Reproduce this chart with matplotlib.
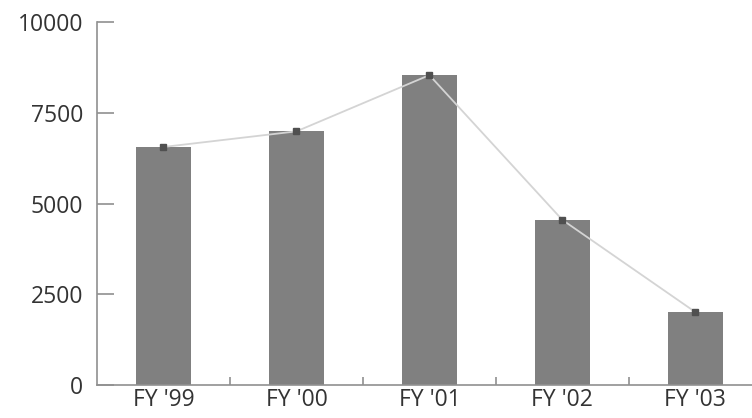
import matplotlib.pyplot as plt

years = ["FY '99", "FY '00", "FY '01", "FY '02", "FY '03"]
values = [6560, 6990, 8540, 4550, 2010]

plt.rcParams['font.family'] = ['Open Sans', 'DejaVu Sans']

fig = plt.figure(figsize=(7.52, 4.18), dpi=100)
ax = fig.add_axes([0.129, 0.079, 0.884, 0.868])

x = range(len(years))
ax.bar(x, values, width=0.41, color='#808080', zorder=2)
ax.plot(x, values, color='#d4d4d4', linewidth=1.3, zorder=3)
ax.plot(x, values, linestyle='none', marker='s', markersize=5,
        color='#505050', zorder=4)

ax.set_xlim(-0.5, 4.5)
ax.set_ylim(0, 10000)
ax.set_yticks([0, 2500, 5000, 7500, 10000])
ax.set_xticks(list(x))
ax.set_xticklabels(years)
ax.set_xticks([0.5, 1.5, 2.5, 3.5], minor=True)

for s in ['top', 'right']:
    ax.spines[s].set_visible(False)
for s in ['left', 'bottom']:
    ax.spines[s].set_color('#909090')
    ax.spines[s].set_linewidth(1.2)

ax.tick_params(axis='y', direction='in', length=12, width=1.2, color='#909090',
               labelsize=16.5, labelcolor='#333333', pad=10)
ax.tick_params(axis='x', which='major', length=0, labelsize=16.5,
               labelcolor='#333333', pad=2)
ax.tick_params(axis='x', which='minor', direction='in', length=6, width=1.2,
               color='#909090')

fig.savefig('out.png', dpi=100)
